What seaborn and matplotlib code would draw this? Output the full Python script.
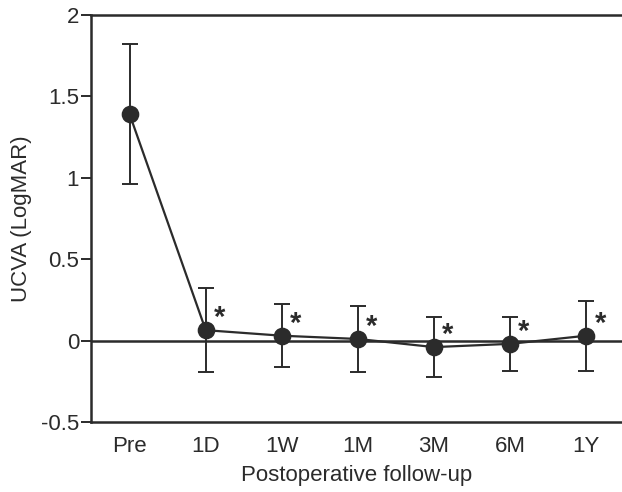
import matplotlib
matplotlib.use("Agg")
import matplotlib.pyplot as plt
import seaborn as sns
import pandas as pd

# UCVA (LogMAR) by follow-up visit: mean and standard deviation
visits = ["Pre", "1D", "1W", "1M", "3M", "6M", "1Y"]
ucva_mean = [1.39, 0.064, 0.03, 0.01, -0.04, -0.02, 0.03]
ucva_sd = [0.43, 0.26, 0.195, 0.205, 0.185, 0.165, 0.215]
significant = [False, True, True, True, True, True, True]

df = pd.DataFrame({"visit": visits, "mean": ucva_mean, "sd": ucva_sd})

sns.set_theme(style="white")
plt.rcParams["font.family"] = ["Liberation Sans", "DejaVu Sans"]

ink = "#2b2b2b"
fig, ax = plt.subplots(figsize=(6.22, 4.92), dpi=100)
fig.subplots_adjust(left=0.146, right=1.0, top=0.9695, bottom=0.1423)

# zero reference line
ax.axhline(0, color=ink, lw=1.8, zorder=1)

# error bars (mean ± SD)
ax.errorbar(range(len(visits)), df["mean"], yerr=df["sd"], fmt="none",
            ecolor=ink, elinewidth=1.4, capsize=6, capthick=1.4, zorder=2)

sns.pointplot(data=df, x="visit", y="mean", order=visits, errorbar=None,
              color=ink, markers="o", markersize=11.5, linewidth=1.6, ax=ax,
              zorder=3)

# significance markers
for i, (m, sig) in enumerate(zip(ucva_mean, significant)):
    if sig:
        ax.annotate("*", xy=(i, m), xytext=(10, 3), textcoords="offset points",
                    ha="center", va="baseline", fontsize=21, fontweight="bold",
                    color=ink)

ax.set_xlim(-0.51, 6.47)
ax.set_ylim(-0.5, 2)
ax.set_yticks([-0.5, 0, 0.5, 1, 1.5, 2])
ax.set_yticklabels(["-0.5", "0", "0.5", "1", "1.5", "2"])

for side in ["top", "bottom", "left"]:
    ax.spines[side].set_visible(True)
    ax.spines[side].set_color(ink)
    ax.spines[side].set_linewidth(1.8)
ax.spines["right"].set_visible(False)

ax.tick_params(axis="y", which="both", left=True, length=7, width=1.4,
               color=ink, labelsize=16, labelcolor=ink, pad=1.5)
ax.tick_params(axis="x", bottom=False, labelsize=16, labelcolor=ink, pad=4)

ax.set_xlabel("Postoperative follow-up", fontsize=16, color=ink, labelpad=6)
ax.set_ylabel("UCVA (LogMAR)", fontsize=16, color=ink, labelpad=6)

fig.savefig("out.png", dpi=100)
